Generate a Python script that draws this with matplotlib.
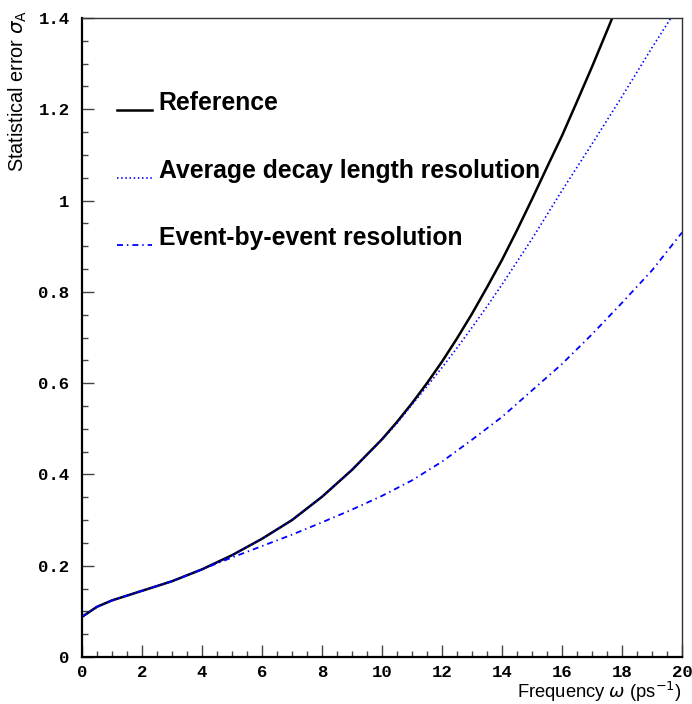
import matplotlib
matplotlib.use("Agg")
import matplotlib.pyplot as plt
from matplotlib.ticker import MultipleLocator

# reference curve
x_ref = [0, 0.5, 1, 2, 3, 4, 5, 6, 7, 8, 9, 10, 10.5, 11, 11.5, 12, 12.5, 13,
         13.5, 14, 14.5, 15, 15.5, 16, 16.5, 17, 17.5, 18]
y_ref = [0.088, 0.110, 0.124, 0.145, 0.166, 0.192, 0.223, 0.259, 0.300, 0.351,
         0.410, 0.477, 0.515, 0.556, 0.600, 0.647, 0.698, 0.752, 0.810, 0.870,
         0.935, 1.003, 1.073, 1.142, 1.217, 1.293, 1.372, 1.452]

# average decay length resolution
x_avg = [0, 0.5, 1, 2, 3, 4, 5, 6, 7, 8, 9, 10, 10.5, 11, 11.5, 12, 12.5, 13,
         13.5, 14, 14.5, 15, 16, 17, 18, 19, 20]
y_avg = [0.088, 0.110, 0.124, 0.145, 0.166, 0.192, 0.223, 0.259, 0.300, 0.351,
         0.410, 0.476, 0.512, 0.553, 0.593, 0.634, 0.677, 0.722, 0.768, 0.816,
         0.866, 0.916, 1.022, 1.124, 1.228, 1.335, 1.438]

# event-by-event resolution
x_evt = [0, 0.5, 1, 2, 3, 4, 5, 6, 7, 8, 9, 10, 11, 12, 13, 14, 15, 16, 17, 18, 19, 20]
y_evt = [0.088, 0.110, 0.124, 0.145, 0.166, 0.192, 0.218, 0.243, 0.268, 0.295,
         0.323, 0.353, 0.387, 0.428, 0.476, 0.526, 0.584, 0.642, 0.707, 0.776,
         0.847, 0.930]

yticks = [0, 0.2, 0.4, 0.6, 0.8, 1.0, 1.2, 1.4]
ytick_labels = ['0', '0.2', '0.4', '0.6', '0.8', '1', '1.2', '1.4']
xticks = [0, 2, 4, 6, 8, 10, 12, 14, 16, 18, 20]

legend_names = ['Reference', 'Average decay length resolution', 'Event-by-event resolution']

fig = plt.figure(figsize=(6.92, 7.04), dpi=100)
ax = fig.add_axes([82/692, 47/704, 600/692, 639/704])

dotted = (0, (0.9, 1.6))
dashdot = (0, (3.3, 2.2, 0.8, 2.2))

ax.plot(x_ref, y_ref, color='black', lw=1.8)
ax.plot(x_avg, y_avg, color='#0000ff', lw=1.2, ls=dotted)
ax.plot(x_evt, y_evt, color='#0000ff', lw=1.3, ls=dashdot)

ax.set_xlim(0, 20)
ax.set_ylim(0, 1.4)

ax.set_xticks(xticks)
ax.set_xticklabels([str(v) for v in xticks])
ax.set_yticks(yticks)
ax.set_yticklabels(ytick_labels)
ax.xaxis.set_minor_locator(MultipleLocator(0.5))
ax.yaxis.set_minor_locator(MultipleLocator(0.05))

ax.tick_params(which='both', direction='in', color='#444444', width=1,
               top=False, right=False)
ax.tick_params(which='major', length=8.6)
ax.tick_params(which='minor', length=4.3)
ax.tick_params(axis='y', which='major', pad=9)
ax.tick_params(axis='x', which='major', pad=6)
for lab in ax.get_xticklabels() + ax.get_yticklabels():
    lab.set_fontfamily('Liberation Mono')
    lab.set_fontweight('bold')
    lab.set_fontsize(12.5)

ax.spines['left'].set_linewidth(1.6)
ax.spines['bottom'].set_linewidth(1.6)
for s in ['top', 'right']:
    ax.spines[s].set_linewidth(1.0)
    ax.spines[s].set_color('#333333')

fig.text(18/692, 1 - 10/704, r'Statistical error $\sigma_{\rm A}$', rotation=90,
         ha='center', va='top', fontsize=14.3, family='Liberation Sans')
fig.text(682/692, 1 - 692/704, r'Frequency $\omega$ (ps$^{-1}$)',
         ha='right', va='center', fontsize=13.2, family='Liberation Sans')

# hand-placed legend
leg_y = [0.856, 0.750, 0.644]
leg_styles = [dict(color='black', lw=1.8),
              dict(color='#0000ff', lw=1.2, ls=dotted),
              dict(color='#0000ff', lw=1.3, ls=dashdot)]
for yy, name, st in zip(leg_y, legend_names, leg_styles):
    ax.plot([0.058, 0.116], [yy, yy], transform=ax.transAxes, **st)
    ax.text(0.128, yy, name, transform=ax.transAxes, ha='left', va='baseline',
            fontsize=17.8, fontweight='bold', family='Liberation Sans')

fig.savefig('out.png', dpi=100)
